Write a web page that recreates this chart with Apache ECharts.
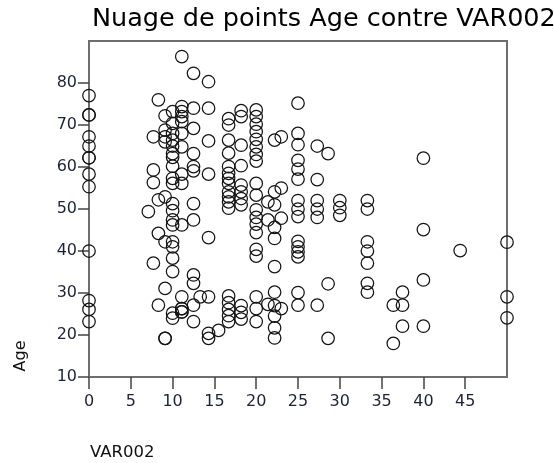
<!DOCTYPE html>
<html lang="fr">
<head>
    <meta charset="UTF-8">
    <title>Nuage de points Age contre VAR002</title>
    <style>
        html, body { margin: 0; padding: 0; background: #fff; }
    </style>
</head>
<body>
<div id="main" style="width: 554px;height:463px;"></div>
<script src="https://cdn.jsdelivr.net/npm/echarts@6/dist/echarts.min.js"></script>
<script>
    // valeurs de VAR002 (colonnes) et ages lus dans chaque colonne
    var var002Levels = [0, 7.1, 7.7, 8.3, 9.1, 10, 11.1, 12.5, 13.3, 14.3, 15.5, 16.7, 18.2, 20,
        21.4, 22.2, 23, 25, 27.3, 28.6, 30, 33.3, 36.4, 37.5, 40, 44.4, 50];
    var ageAtLevel = [
        [77, 72.4, 72.4, 67.2, 65, 62.2, 62.2, 58.3, 55.3, 40, 28.2, 26.1, 23.2],
        [49.4],
        [67.2, 59.3, 56.3, 37.1],
        [76, 52.2, 44.2, 27.1],
        [72.2, 68.8, 67.2, 66, 52.9, 42.2, 31.1, 19.2, 19.2],
        [73.2, 70.4, 68, 66.4, 65, 63.2, 62.3, 60.2, 57.3, 56.1, 51.3, 49.6, 47.4, 46.2, 42.2, 41, 38.3, 35.1, 25.2, 24],
        [86.3, 74.4, 73.2, 72, 70.8, 68, 64.8, 58.3, 56.1, 46.2, 29.1, 26.3, 26.3, 25.5, 25.5],
        [82.3, 74, 69.2, 63.2, 60.1, 59.1, 51.3, 47.4, 34.3, 32.3, 27.1, 23.2],
        [29.1],
        [80.3, 74, 66.2, 58.3, 43.2, 29.1, 20.4, 19.2],
        [21.1],
        [71.5, 70, 66.4, 63.3, 60.1, 58.5, 57.3, 56.1, 54.1, 52.9, 51.7, 50.2, 29.3, 27.7, 26.1, 24.6, 23.2],
        [73.4, 72, 65.2, 60.3, 55.7, 54.1, 52.5, 51, 27, 25.4, 23.8],
        [73.6, 72, 70.2, 68.4, 66.6, 64.8, 63, 61.4, 56.1, 53.3, 49.8, 48, 46.4, 44.4, 40.4, 38.8, 29.1, 26.3, 23.2],
        [51.7, 47.4, 27.3],
        [66.4, 54.1, 51, 45.6, 43, 36.3, 30.2, 27, 24.5, 21.7, 19.3],
        [67.2, 55, 47.8, 26.3],
        [75.2, 68, 65.3, 61.6, 59.5, 57.1, 52, 50, 48.2, 42.3, 41, 39.8, 38.6, 30.1, 27.1],
        [65, 57, 52, 50, 48, 27.1],
        [63.2, 32.2, 19.2],
        [52, 50.3, 48.5],
        [52, 50, 42.2, 40, 37.1, 32.3, 30.2],
        [27.1, 18],
        [30.2, 27.1, 22.1],
        [62.1, 45.1, 33.1, 22.1],
        [40.1],
        [42.1, 29.1, 24.1]
    ];
    var xTicks = [0, 5, 10, 15, 20, 25, 30, 35, 40, 45];
    var yTicks = [10, 20, 30, 40, 50, 60, 70, 80];

    var points = [];
    for (var i = 0; i < var002Levels.length; i++) {
        for (var j = 0; j < ageAtLevel[i].length; j++) {
            points.push([var002Levels[i], ageAtLevel[i][j]]);
        }
    }

    var font = 'DejaVu Sans';
    var frameColor = '#6e6e6e';
    var labelColor = '#1c2238';

    var myChart = echarts.init(document.getElementById('main'));
    var option = {
        backgroundColor: '#fff',
        animation: false,
        title: {
            text: 'Nuage de points Age contre VAR002',
            left: 92,
            top: 6,
            padding: 0,
            textStyle: {fontFamily: font, fontSize: 25.5, fontWeight: 'normal', color: '#000'}
        },
        grid: {
            left: 89, right: 47, top: 41, bottom: 86,
            show: true,
            borderColor: frameColor,
            borderWidth: 2
        },
        xAxis: {
            type: 'value',
            min: 0,
            max: 50,
            interval: 5,
            axisLine: {onZero: false, lineStyle: {color: frameColor, width: 2}},
            axisTick: {customValues: xTicks, length: 12, lineStyle: {color: '#444', width: 1.5}},
            axisLabel: {customValues: xTicks, margin: 17, fontFamily: font, fontSize: 16, color: labelColor},
            splitLine: {show: false}
        },
        yAxis: {
            type: 'value',
            min: 10,
            max: 90,
            interval: 10,
            axisLine: {onZero: false, lineStyle: {color: frameColor, width: 2}},
            axisTick: {customValues: yTicks, length: 11, lineStyle: {color: '#444', width: 1.5}},
            axisLabel: {customValues: yTicks, margin: 12, fontFamily: font, fontSize: 16, color: labelColor},
            splitLine: {show: false}
        },
        graphic: [
            {
                type: 'text',
                x: 21, y: 356,
                rotation: Math.PI / 2,
                style: {text: 'Age', fontFamily: font, fontSize: 16, fill: '#111', textAlign: 'center', textVerticalAlign: 'middle'}
            },
            {
                type: 'text',
                x: 90, y: 453,
                style: {text: 'VAR002', fontFamily: font, fontSize: 16.5, fill: '#111', textAlign: 'left', textVerticalAlign: 'middle'}
            }
        ],
        series: [{
            type: 'scatter',
            data: points,
            symbol: 'circle',
            symbolSize: 12.5,
            clip: false,
            itemStyle: {color: 'rgba(0,0,0,0)', borderColor: '#141414', borderWidth: 1.25, opacity: 1}
        }]
    };
    myChart.setOption(option);
</script>
</body>
</html>
